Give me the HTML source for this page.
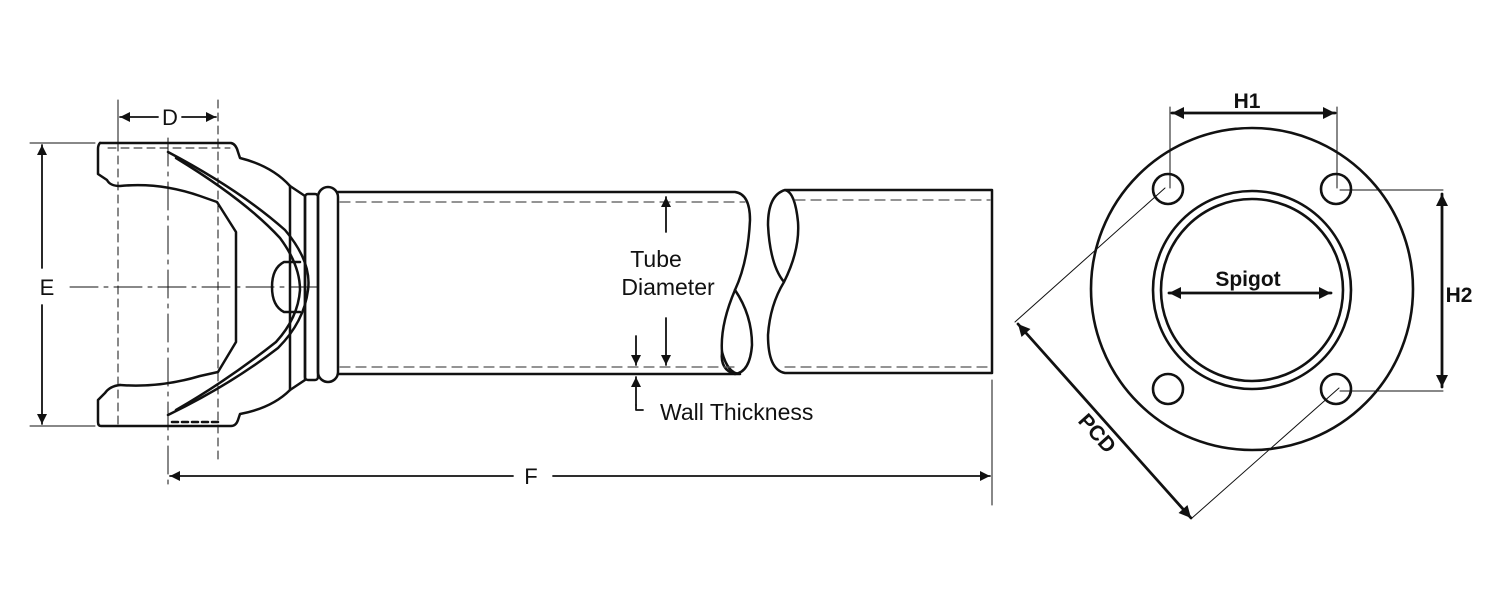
<!DOCTYPE html>
<html><head><meta charset="utf-8"><style>
html,body{margin:0;padding:0;background:#fff;width:1500px;height:600px;overflow:hidden}
svg{display:block}
text{font-family:"Liberation Sans",Arial,sans-serif;fill:#111}
</style></head><body>
<svg width="1500" height="600" viewBox="0 0 1500 600" xmlns="http://www.w3.org/2000/svg">
<defs>
<marker id="a" viewBox="0 0 10 10" refX="10" refY="5" markerWidth="16" markerHeight="10" markerUnits="userSpaceOnUse" orient="auto-start-reverse"><path d="M0,0 L10,5 L0,10 Z" fill="#111"/></marker>
<marker id="b" viewBox="0 0 10 10" refX="10" refY="5" markerWidth="18" markerHeight="12" markerUnits="userSpaceOnUse" orient="auto-start-reverse"><path d="M0,0 L10,5 L0,10 Z" fill="#111"/></marker>
</defs>
<g fill="none" stroke="#111" stroke-linecap="round" stroke-linejoin="round">
<line x1="70" y1="287" x2="320" y2="287" stroke-width="1" stroke-dasharray="28,6,4,6"/>
<line x1="168" y1="138" x2="168" y2="490" stroke-width="1" stroke-dasharray="28,6,4,6"/>
<line x1="218" y1="100" x2="218" y2="462" stroke-width="1" stroke-dasharray="8,5"/>
<line x1="118" y1="100" x2="118" y2="143" stroke-width="1"/>
<line x1="118" y1="143" x2="118" y2="425" stroke-width="1" stroke-dasharray="8,5"/>
<line x1="108" y1="148" x2="230" y2="148" stroke-width="1" stroke-dasharray="8,5"/>
<line x1="172" y1="422" x2="218" y2="422" stroke-width="2.5" stroke-dasharray="6,4"/>
<line x1="120" y1="117" x2="158" y2="117" stroke-width="1.8" marker-start="url(#a)"/>
<line x1="182" y1="117" x2="216" y2="117" stroke-width="1.8" marker-end="url(#a)"/>
<line x1="30" y1="143" x2="95" y2="143" stroke-width="1"/>
<line x1="30" y1="426" x2="95" y2="426" stroke-width="1"/>
<line x1="42" y1="145" x2="42" y2="268" stroke-width="1.8" marker-start="url(#a)"/>
<line x1="42" y1="305" x2="42" y2="424" stroke-width="1.8" marker-end="url(#a)"/>
<line x1="170" y1="476" x2="513" y2="476" stroke-width="1.8" marker-start="url(#a)"/>
<line x1="553" y1="476" x2="990" y2="476" stroke-width="1.8" marker-end="url(#a)"/>
<line x1="992" y1="380" x2="992" y2="505" stroke-width="1"/>
<g stroke-width="2.5">
<path d="M100 143 L231 143 Q236 144 238 152 L240 158 Q272 166 290 186 L305 196 L305 380 L290 390 Q272 408 240 414 L238 420 Q236 426 231 426 L101 426 Q98 426 98 422 L98 400 L105 393 Q110 386 120 385"/>
<path d="M100 143 Q98 145 98 149 L98 174 L107 180 Q110 186 120 186 Q160 182 200 196 L217 202 L236 232 L236 342 L218 372 L200 376 Q160 388 120 385"/>
<path d="M168 152 Q240 190 285 230 Q312 262 308 290 Q304 322 278 348 Q230 385 168 415"/>
<path d="M176 158 Q245 200 280 238 Q300 265 300 290 Q298 318 276 342 Q228 380 176 410"/>
<path d="M290 186 L290 390"/>
<path d="M284 262 Q272 268 272 287 Q272 306 284 312 L300 312 M284 262 L300 262"/>
<rect x="305" y="194" width="13" height="186" rx="3"/>
<rect x="318" y="187" width="20" height="195" rx="10"/>
</g>
<g stroke-width="2.5">
<path d="M338 192 L735 192 Q750 194 750 220 Q748 262 735 290 Q720 325 722 352 Q728 374 740 374 L338 374"/>
<path d="M735 290 Q752 315 752 345 Q750 372 735 374 Q720 370 722 352"/>
<path d="M785 190 L992 190 L992 373 L785 373 Q768 370 768 335 Q770 305 784 282 Q800 250 798 222 Q795 192 785 190 Q768 195 768 225 Q770 265 784 282"/>
</g>
<g stroke-width="1.2" stroke-dasharray="10,6" stroke="#555">
<line x1="340" y1="202" x2="745" y2="202"/>
<line x1="340" y1="367" x2="735" y2="367"/>
<line x1="795" y1="200" x2="990" y2="200"/>
<line x1="785" y1="367" x2="990" y2="367"/>
</g>
<line x1="666" y1="232" x2="666" y2="197" stroke-width="1.8" marker-end="url(#a)"/>
<line x1="666" y1="318" x2="666" y2="365" stroke-width="1.8" marker-end="url(#a)"/>
<line x1="636" y1="336" x2="636" y2="365" stroke-width="1.8" marker-end="url(#a)"/>
<line x1="636" y1="405" x2="636" y2="377" stroke-width="1.8" marker-end="url(#a)"/>
<path d="M636 405 L636 410 L643 410" stroke-width="1.8"/>
<g stroke-width="2.6">
<circle cx="1252" cy="289" r="161"/>
<circle cx="1252" cy="290" r="99"/>
<circle cx="1252" cy="290" r="91"/>
<circle cx="1168" cy="189" r="15"/>
<circle cx="1336" cy="189" r="15"/>
<circle cx="1168" cy="389" r="15"/>
<circle cx="1336" cy="389" r="15"/>
</g>
<g stroke-width="1">
<line x1="1170" y1="107" x2="1170" y2="188"/>
<line x1="1337" y1="107" x2="1337" y2="188"/>
<line x1="1340" y1="190" x2="1443" y2="190"/>
<line x1="1340" y1="391" x2="1443" y2="391"/>
<line x1="1165" y1="188" x2="1015" y2="322"/>
<line x1="1339" y1="388" x2="1192" y2="518"/>
</g>
<line x1="1172" y1="113" x2="1335" y2="113" stroke-width="2.8" marker-start="url(#b)" marker-end="url(#b)"/>
<line x1="1442" y1="194" x2="1442" y2="387" stroke-width="2.8" marker-start="url(#b)" marker-end="url(#b)"/>
<line x1="1169" y1="293" x2="1331" y2="293" stroke-width="2.8" marker-start="url(#b)" marker-end="url(#b)"/>
<line x1="1018" y1="324" x2="1191" y2="518" stroke-width="2.8" marker-start="url(#b)" marker-end="url(#b)"/>
</g>
<text x="170" y="125" font-size="22" text-anchor="middle">D</text>
<text x="47" y="295" font-size="22" text-anchor="middle">E</text>
<text x="531" y="484" font-size="22" text-anchor="middle">F</text>
<text x="656" y="267" font-size="23" text-anchor="middle">Tube</text>
<text x="668" y="295" font-size="23" text-anchor="middle">Diameter</text>
<text x="660" y="420" font-size="23">Wall Thickness</text>
<text x="1247" y="108" font-size="21" font-weight="bold" text-anchor="middle">H1</text>
<text x="1459" y="302" font-size="21" font-weight="bold" text-anchor="middle">H2</text>
<text x="1248" y="286" font-size="21" font-weight="bold" text-anchor="middle">Spigot</text>
<text x="0" y="0" font-size="21" font-weight="bold" text-anchor="middle" transform="translate(1092,438) rotate(48)">PCD</text>
</svg>
</body></html>
